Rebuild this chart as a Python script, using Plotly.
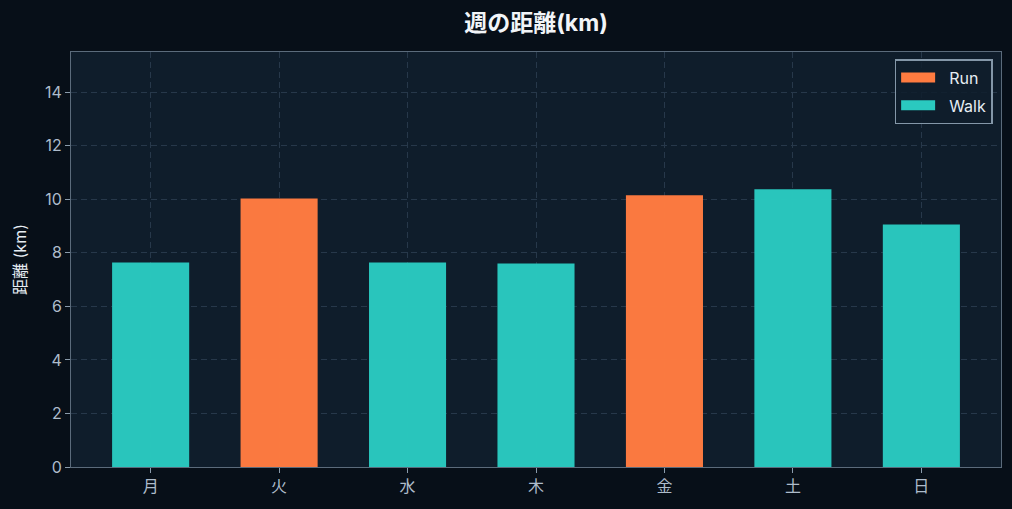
import plotly.graph_objects as go

days = ["月", "火", "水", "木", "金", "土", "日"]
kinds = ["Walk", "Run", "Walk", "Walk", "Run", "Walk", "Walk"]
distance_km = [7.64, 10.03, 7.64, 7.60, 10.15, 10.37, 9.06]

colors = {"Run": "#ff7b40", "Walk": "#2ac9bf"}

fig = go.Figure()
for kind in ["Run", "Walk"]:
    # keep every day on the axis, blank out the other kind
    vals = [d if k == kind else None for d, k in zip(distance_km, kinds)]
    fig.add_trace(go.Bar(
        x=days, y=vals, name=kind, legendgroup=kind, showlegend=False,
        marker=dict(color=colors[kind], line=dict(width=0)),
        opacity=0.98,
        width=0.6,
    ))
    # legend-only entry so the swatch is a wide bar like the original
    fig.add_trace(go.Scatter(
        x=[None], y=[None], name="\u00a0\u00a0" + kind, legendgroup=kind,
        mode="lines", line=dict(color=colors[kind], width=12),
    ))

axis_common = dict(
    showline=True, linecolor="#5b6b7b", linewidth=1, mirror=True,
    gridcolor="#27384a", griddash="6px,4px", gridwidth=1,
    ticks="outside", ticklen=5, tickcolor="#8a9bab",
    tickfont=dict(color="#aebccb", size=16),
    zeroline=False,
)

fig.update_layout(
    width=1012, height=509,
    barmode="overlay",
    paper_bgcolor="#070f18",
    plot_bgcolor="#0f1d2b",
    font=dict(family="Inter, 'Noto Sans CJK JP', sans-serif", color="#e6edf3"),
    title=dict(text="<b>週の距離(km)</b>", xref="paper", x=0.5, xanchor="center",
               y=1 - 23 / 509, yanchor="middle",
               font=dict(size=23, color="#f2f5f8")),
    margin=dict(l=71, r=11, t=52, b=42),
    xaxis=dict(axis_common, categoryorder="array", categoryarray=days,
               range=[-0.62, 6.62]),
    yaxis=dict(axis_common, range=[0, 15.5], dtick=2,
               title=dict(text="距離 (km)", font=dict(size=16, color="#e6edf3"), standoff=14)),
    legend=dict(x=0.991, y=0.983, xanchor="right", yanchor="top",
                bgcolor="rgba(15,29,43,0.85)", bordercolor="#8497a8", borderwidth=1.5,
                itemwidth=34, tracegroupgap=4,
                font=dict(size=16, color="#e6edf3")),
)

# drop the default page margin so the figure fills the window
fig.write_html("out.html", config={"displayModeBar": False},
               post_script="document.body.style.margin='0';")
